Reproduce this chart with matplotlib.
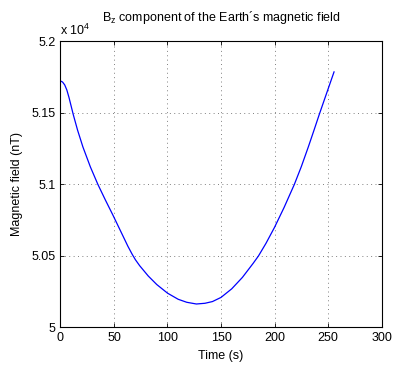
import matplotlib
matplotlib.use("Agg")
import matplotlib.pyplot as plt
from matplotlib.ticker import FuncFormatter

plt.rcParams['font.family'] = ['Liberation Sans', 'DejaVu Sans']
plt.rcParams['mathtext.fontset'] = 'custom'
plt.rcParams['mathtext.rm'] = 'Liberation Sans'
plt.rcParams['mathtext.it'] = 'Liberation Sans'

# values
time_s = [0, 2, 4, 6, 8, 10, 12, 16, 21, 28, 35, 42, 49, 58, 63, 67, 70, 74,
          82, 90, 100, 110, 118, 127, 135, 142, 150, 160, 170, 180, 185, 192,
          200, 209, 218.5, 225, 231.6, 237, 242, 249, 255.6]
bz_nT = [51724, 51716, 51696, 51660, 51608, 51548, 51488, 51380, 51262, 51122,
         51000, 50891, 50786, 50646, 50568, 50512, 50474, 50432, 50360, 50300,
         50240, 50197, 50176, 50164, 50169, 50181, 50210, 50270, 50350, 50448,
         50500, 50588, 50700, 50840, 51000, 51124, 51263, 51382, 51494, 51645,
         51787]

fig = plt.figure(figsize=(3.95, 3.7), dpi=100)
ax = fig.add_axes([0.153, 0.115, 0.813, 0.773])
ax.plot(time_s, bz_nT, color='#0000ff', lw=0.9)

ax.set_xlim(0, 300)
ax.set_ylim(50000, 52000)
ax.set_xticks([0, 50, 100, 150, 200, 250, 300])
ax.set_yticks([50000, 50500, 51000, 51500, 52000])
ax.yaxis.set_major_formatter(FuncFormatter(lambda v, p: '%g' % (v / 1e4)))
ax.tick_params(direction='in', top=True, right=True, labelsize=9, length=3, width=0.6)
ax.grid(True, color='#808080', linestyle=(0, (1, 3.5)), lw=0.7)
for s in ax.spines.values():
    s.set_linewidth(0.8)

ax.set_xlabel('Time (s)', fontsize=9, labelpad=4)
ax.set_ylabel('Magnetic field (nT)', fontsize=9, labelpad=6)
ax.set_title(r'B$_\mathrm{z}$ component of the Earth´s magnetic field', fontsize=9, pad=15)
ax.text(0.0, 1.012, r'x 10$^4$', transform=ax.transAxes, fontsize=9, ha='left', va='bottom')

fig.savefig('out.png', dpi=100)
